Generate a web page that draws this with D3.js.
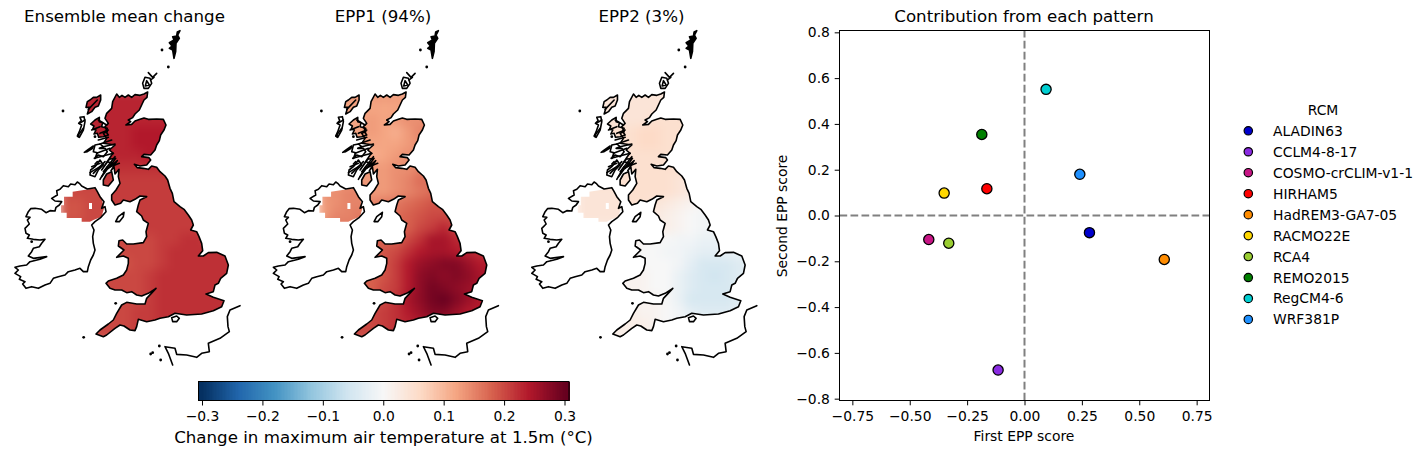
<!DOCTYPE html>
<html><head><meta charset="utf-8">
<style>html,body{margin:0;padding:0;background:#fff}svg{display:block}text{font-family:"DejaVu Sans",sans-serif;fill:#000}</style>
<script src="https://cdn.jsdelivr.net/npm/d3@7/dist/d3.min.js"></script>
</head><body><svg id="c" width="1427" height="454"></svg>
<script>
// ---------- scatter data ----------
const rcmNames=["ALADIN63","CCLM4-8-17","COSMO-crCLIM-v1-1","HIRHAM5","HadREM3-GA7-05","RACMO22E","RCA4","REMO2015","RegCM4-6","WRF381P"];
const rcmColors=["#0000cd","#8a2be2","#c71585","#ff0000","#ff8c00","#ffd700","#9acd32","#008000","#00ced1","#1e90ff"];
const firstScore=[0.283,-0.115,-0.417,-0.164,0.609,-0.350,-0.330,-0.186,0.094,0.241];
const secondScore=[-0.075,-0.675,-0.105,0.117,-0.192,0.098,-0.121,0.354,0.551,0.180];
const xTicks=[-0.75,-0.5,-0.25,0,0.25,0.5,0.75];
const yTicks=[-0.8,-0.6,-0.4,-0.2,0,0.2,0.4,0.6,0.8];
const cbTicks=[-0.3,-0.2,-0.1,0,0.1,0.2,0.3];
const panelTitles=["Ensemble mean change","EPP1 (94%)","EPP2 (3%)"];
const rdbu=["#053061","#2166ac","#4393c3","#92c5de","#d1e5f0","#f7f7f7","#fddbc7","#f4a582","#d6604d","#b2182b","#67001f"];
// ---------- field values (hundredths of a degree), coarse reading of each panel ----------
const gridCols=[198,234,270,306,342,378,414,450,486,522,558,594,630,666,702];
const gridRows=[228,264,300,336,372,408,444,480,516,552,588,624,660,696,732,768,804,840,876,912,948];
const meanField=[
[23,23,23,23,23,23,23,23,23,23,23,23,23,23,23],
[23,23,23,23,23,23,23,23,23,23,23,23,23,23,23],
[23,23,23,23,23,23,23,23,23,23,23,23,23,23,23],
[23,23,23,23,23,23,24,24,24,24,24,24,24,24,24],
[23,23,23,23,23,23,24,24,24,24,24,24,24,24,24],
[23,23,23,23,23,23,23,24,23,23,23,23,23,23,23],
[22,22,22,22,22,22,22,22,22,22,22,22,22,22,22],
[21,21,21,21,21,21,21,21,21,21,21,21,21,21,21],
[20,20,20,20,21,21,21,21,21,21,21,21,21,21,21],
[19,19,20,20,21,21,21,21,21,21,21,21,21,21,21],
[19,19,20,20,21,21,21,21,21,21,21,21,21,21,21],
[20,20,20,20,21,21,21,21,21,21,21,21,21,21,21],
[20,20,20,20,20,20,20,20,21,21,22,22,21,21,21],
[20,20,20,20,20,20,20,20,21,22,22,22,22,22,22],
[20,20,20,20,20,19,20,20,21,22,22,22,22,22,22],
[20,20,20,20,20,20,20,21,22,22,22,22,22,22,22],
[20,20,20,20,20,20,20,21,22,22,22,22,22,22,22],
[20,20,20,20,20,20,20,21,22,22,22,22,22,22,22],
[20,20,20,20,20,20,21,21,22,22,22,22,22,22,22],
[20,20,20,20,20,20,21,21,22,22,22,22,22,22,22],
[20,20,20,20,20,20,21,21,22,22,22,22,22,22,22]];
const epp1Field=[
[13,13,13,13,13,13,13,13,13,13,13,13,13,13,13],
[12,12,12,12,12,12,12,13,13,13,13,13,13,13,13],
[12,12,12,12,13,12,13,14,14,14,14,14,14,14,14],
[12,12,12,12,13,12,11,13,15,14,14,14,14,14,14],
[12,12,12,12,12,12,12,13,14,14,14,14,14,14,14],
[12,12,12,12,11,12,13,14,14,14,14,14,14,14,14],
[13,13,13,13,13,13,14,14,15,15,15,15,15,15,15],
[13,13,13,13,13,13,14,15,17,16,16,16,16,16,16],
[14,14,15,15,13,13,14,15,16,17,17,17,17,17,17],
[13,14,15,15,15,16,16,17,18,19,19,19,19,19,19],
[13,15,15,16,16,16,17,18,19,20,20,20,20,20,20],
[16,16,16,16,17,17,18,18,20,21,23,20,20,20,20],
[18,18,18,18,18,18,18,20,22,25,25,23,22,22,22],
[18,18,18,18,18,19,20,22,24,25,25,24,23,22,22],
[18,18,18,18,18,19,21,24,26,27,28,28,26,24,24],
[18,18,18,18,18,19,21,24,27,28,27,28,27,25,25],
[18,18,18,18,18,20,21,24,27,29,28,27,26,25,25],
[19,19,19,19,19,20,22,25,27,29,30,28,26,24,24],
[20,20,20,20,20,21,22,24,26,28,28,26,24,24,24],
[20,20,20,20,20,21,22,23,24,25,25,24,24,24,24],
[20,20,20,20,20,21,22,23,24,25,25,24,24,24,24]];
const epp2Field=[
[4,4,4,4,4,4,4,4,4,4,4,4,4,4,4],
[4,4,4,4,4,4,4,4,4,4,4,4,4,4,4],
[4,4,4,4,4,4,5,5,5,5,5,5,5,5,5],
[5,5,5,5,5,6,6,5,5,5,5,5,5,5,5],
[5,5,5,5,5,6,6,5,5,5,5,5,5,5,5],
[5,5,5,5,5,5,5,5,5,5,5,5,5,5,5],
[5,5,5,5,5,5,5,5,5,5,5,5,5,5,5],
[5,5,5,5,5,5,5,5,4,3,3,3,3,3,3],
[4,4,4,4,5,5,5,5,4,3,2,2,2,2,2],
[4,4,4,4,5,5,4,3,2,1,0,0,0,0,0],
[4,4,4,4,3,3,3,2,1,0,-1,-1,-1,-1,-1],
[3,3,3,3,3,3,3,2,1,0,-1,-1,-1,-1,-1],
[2,2,2,2,1,1,0,0,-1,-1,-2,-2,-2,-2,-2],
[1,1,1,1,1,0,0,-1,-1,-2,-3,-3,-2,-2,-2],
[1,1,1,1,1,0,0,0,-1,-3,-5,-5,-5,-4,-3],
[1,1,1,1,1,1,0,0,-2,-4,-5,-6,-5,-4,-3],
[1,1,1,1,1,1,0,0,-2,-4,-5,-5,-5,-4,-3],
[2,2,2,2,2,1,1,0,-2,-5,-5,-5,-5,-4,-3],
[2,2,2,2,2,1,1,0,-1,-3,-4,-4,-4,-3,-3],
[2,2,2,2,2,2,1,0,-1,-2,-2,-2,-2,-2,-2],
[2,2,2,2,2,2,1,0,-1,-2,-2,-2,-2,-2,-2]];
const fields=[meanField,epp1Field,epp2Field];
// ---------- coast outlines, in map units ----------
const britain=[[350,222],[358,232],[366,226],[375,232],[385,225],[395,232],[405,224],[420,226],[432,222],[443,216],[441,232],[432,240],[425,255],[418,270],[405,282],[398,293],[385,300],[392,305],[378,315],[395,313],[405,303],[420,298],[432,294],[445,298],[470,297],[490,298],[498,315],[492,330],[482,345],[478,362],[470,375],[465,390],[452,405],[432,403],[425,410],[447,413],[452,420],[440,435],[420,438],[403,433],[412,443],[430,445],[445,448],[455,438],[470,442],[480,455],[495,468],[503,480],[510,505],[517,520],[522,545],[540,560],[552,568],[565,585],[575,600],[580,615],[572,630],[590,635],[597,650],[605,670],[608,692],[595,708],[610,708],[625,698],[650,697],[675,708],[685,735],[680,760],[662,775],[655,790],[645,795],[640,815],[618,822],[640,832],[672,842],[665,860],[640,872],[605,882],[560,885],[525,880],[505,890],[480,895],[465,900],[440,905],[415,898],[410,920],[405,932],[390,930],[372,918],[360,915],[345,925],[320,945],[310,950],[288,942],[300,930],[325,912],[340,900],[350,880],[365,855],[380,847],[410,852],[435,852],[440,835],[468,805],[445,820],[425,828],[410,825],[395,815],[380,818],[365,810],[345,810],[330,805],[318,790],[325,783],[350,775],[370,765],[380,750],[385,730],[385,715],[370,708],[350,712],[372,690],[355,678],[357,662],[368,660],[380,672],[400,672],[430,668],[440,650],[438,635],[445,610],[430,600],[425,588],[410,575],[415,555],[420,540],[440,530],[420,528],[405,538],[390,545],[370,540],[362,550],[345,555],[335,540],[335,525],[348,510],[360,490],[355,470],[357,448],[345,462],[342,440],[333,452],[352,422],[325,445],[347,415],[328,418],[305,450],[335,405],[340,400],[328,390],[345,375],[310,370],[320,355],[310,340],[322,335],[315,320],[325,310],[315,295],[320,280],[335,265],[338,245]];
const northernIreland=[[192,530],[218,530],[218,515],[285,505],[305,535],[312,565],[305,590],[280,600],[270,605],[245,605],[245,594],[200,594],[200,578],[183,578],[183,556],[192,556]];
const niHole=[[267,549],[276,549],[276,567],[267,567]];
const maskedIslands=[
[[302,225],[290,232],[280,232],[270,240],[262,245],[258,262],[268,262],[262,282],[275,275],[285,262],[295,258],[302,240]],
[[335,455],[320,462],[310,480],[310,495],[325,498],[340,480]],
[[298,292],[285,300],[272,312],[282,318],[278,328],[288,330],[282,342],[292,340],[296,352],[310,350],[325,345],[318,335],[322,325],[305,320],[308,308],[298,305]]];
const otherIslands=[
[[252,290],[240,292],[244,302],[236,310],[245,315],[238,335],[232,348],[238,352],[250,330],[255,305]],
[[253,397],[265,388],[280,378],[278,385],[262,395]],
[[285,375],[300,372],[310,380],[298,385],[315,385],[322,395],[310,410],[295,405],[285,415],[292,398],[280,395]],
[[300,420],[285,440],[272,450],[270,465],[285,470],[295,450],[310,435]],
[[372,577],[355,590],[347,605],[358,605],[370,590]],
[[515,893],[530,888],[538,895],[530,905],[518,905]],
[[445,205],[432,205],[428,190],[435,172],[450,175],[455,190]],
[[440,182],[448,195],[436,198]]];
const sealochs=[
[[445,158],[458,172],[470,160]],[[452,180],[462,172]],
[[310,380],[345,372]],[[290,400],[330,385]],[[283,415],[340,400]],[[275,440],[300,430]],[[320,445],[358,430]],[[305,470],[335,430]],[[270,458],[300,440]],[[285,432],[292,425]],
[[295,360],[325,352]],[[300,372],[335,360]],[[322,425],[345,432]],[[280,460],[315,425]],[[300,478],[322,440]],[[310,455],[345,410]],[[295,300],[320,315]],[[275,330],[300,320]],[[300,340],[325,330]],[[238,310],[255,300]],[[235,345],[250,325]],[[265,268],[292,240]]];
const shetland=[[540,32],[532,36],[530,48],[518,50],[522,60],[508,68],[516,78],[508,85],[518,90],[522,115],[527,95],[528,70],[538,55],[533,45]];
const ireland=[[232,486],[225,494],[212,492],[205,500],[190,497],[180,508],[170,512],[172,525],[155,535],[165,543],[185,545],[178,555],[168,562],[165,573],[150,572],[138,578],[125,568],[105,565],[92,566],[85,575],[78,590],[90,592],[82,600],[88,612],[75,625],[78,640],[88,645],[82,655],[100,658],[120,660],[135,658],[125,670],[118,680],[100,685],[95,695],[85,708],[100,715],[140,710],[120,718],[90,725],[80,735],[60,738],[45,742],[55,750],[45,760],[62,770],[58,778],[75,785],[68,792],[78,805],[95,800],[115,805],[135,795],[150,790],[160,775],[175,770],[195,765],[205,755],[225,750],[240,745],[250,755],[262,755],[265,740],[272,720],[280,705],[285,690],[280,670],[278,650],[282,630],[275,615],[285,605],[303,592],[318,575],[315,560],[305,565],[312,545],[300,530],[292,515],[285,503],[262,507],[245,498],[238,490]];
const france=[[720,857],[690,870],[682,890],[684,920],[688,935],[660,955],[625,970],[628,995],[605,1000],[590,1012],[560,1005],[530,1003],[525,985],[495,980],[505,1000],[518,1035]];
const islets=[[189,273],[486,90],[505,141],[347,850],[95,665],[235,348],[251,952],[458,998],[482,1020],[478,978],[285,350],[452,1002]];

const svg=d3.select("#c");
const defs=svg.append("defs");
const flt=defs.append("filter").attr("id","soft").attr("x","-20%").attr("y","-20%").attr("width","140%").attr("height","140%")
  .attr("color-interpolation-filters","sRGB");
flt.append("feGaussianBlur").attr("stdDeviation",5);

const cStops=d3.range(11).map(i=>-0.3+0.06*i);
const color=d3.scaleLinear().domain(cStops).range(rdbu).clamp(true);
const mapOff=[0,258.4,516.8];

const closed=d3.line().curve(d3.curveLinearClosed);
fields.forEach((field,p)=>{
  const px=d3.scaleLinear().domain([0,780]).range([mapOff[p],mapOff[p]+260]);
  const py=d3.scaleLinear().domain([0,1050]).range([20,370]);
  const l=pts=>pts.map(d=>[px(d[0]),py(d[1])]);
  const clip=defs.append("clipPath").attr("id","land"+p);
  clip.append("path").attr("d",closed(l(britain)));
  clip.append("path").attr("d",closed(l(northernIreland)));
  maskedIslands.forEach(i=>clip.append("path").attr("d",closed(l(i))));
  const g=svg.append("g");
  const raster=g.append("g").attr("clip-path",`url(#land${p})`).append("g").attr("filter","url(#soft)");
  field.forEach((row,j)=>row.forEach((v,i)=>{
    raster.append("rect").attr("x",px(gridCols[i]-18)-0.3).attr("y",py(gridRows[j]-18)-0.3)
      .attr("width",px(36)-px(0)+0.6).attr("height",py(36)-py(0)+0.6).attr("fill",color(v/100));
  }));
  g.append("path").attr("d",closed(l(niHole))).attr("fill","#fff");
  const coast=g.append("g").attr("fill","none").attr("stroke","#000").attr("stroke-width",1.6).attr("stroke-linejoin","round").attr("stroke-linecap","round");
  [britain,ireland,...maskedIslands,...otherIslands].forEach(i=>coast.append("path").attr("d",closed(l(i))));
  sealochs.forEach(i=>coast.append("path").attr("d",d3.line()(l(i))));
  coast.append("path").attr("d",d3.line()(l(france)));
  coast.append("path").attr("d",closed(l(shetland))).attr("fill","#000");
  g.selectAll("circle.i").data(islets).join("circle").attr("cx",d=>px(d[0])).attr("cy",d=>py(d[1])).attr("r",1.4).attr("fill","#000");
  svg.append("text").attr("x",[124.5,383,641.5][p]).attr("y",22).attr("text-anchor","middle").attr("font-size",16.67).text(panelTitles[p]);
});

// ---------- colour bar ----------
const cb=d3.scaleLinear().domain([-0.3066,0.3066]).range([198.5,569]);
const cbG=svg.append("g");
d3.range(256).forEach(i=>{
  const v0=-0.3066+i/256*0.6132;
  cbG.append("rect").attr("x",cb(v0)).attr("y",382).attr("width",(569-198.5)/256+0.5).attr("height",18.6).attr("fill",color(v0+0.6132/512)).attr("shape-rendering","crispEdges");
});
cbG.append("rect").attr("x",198.5).attr("y",381.5).attr("width",370.5).attr("height",19).attr("fill","none").attr("stroke","#000").attr("stroke-width",1);
cbTicks.forEach(t=>{
  cbG.append("line").attr("x1",cb(t)).attr("x2",cb(t)).attr("y1",401).attr("y2",405.5).attr("stroke","#000");
  cbG.append("text").attr("x",cb(t)).attr("y",421).attr("text-anchor","middle").attr("font-size",13.89).text(d3.format(".1f")(t).replace("-","\u2212"));
});
svg.append("text").attr("x",383.5).attr("y",442.5).attr("text-anchor","middle").attr("font-size",16.67).text("Change in maximum air temperature at 1.5m (\u00b0C)");

// ---------- scatter ----------
const x=d3.scaleLinear().domain([-0.806,0.806]).range([839.5,1209.5]);
const y=d3.scaleLinear().domain([-0.808,0.808]).range([400.5,30.5]);
const sc=svg.append("g");
sc.append("line").attr("x1",x(0)).attr("x2",x(0)).attr("y1",y.range()[0]).attr("y2",y.range()[1]).attr("stroke","#808080").attr("stroke-width",2).attr("stroke-dasharray","7.7 3.3");
sc.append("line").attr("y1",y(0)).attr("y2",y(0)).attr("x1",x.range()[0]).attr("x2",x.range()[1]).attr("stroke","#808080").attr("stroke-width",2).attr("stroke-dasharray","7.7 3.3");
const fx=d3.axisBottom(x).tickValues(xTicks).tickSize(4.8).tickPadding(5.4).tickFormat(d=>d3.format(".2f")(d).replace("-","\u2212"));
const fy=d3.axisLeft(y).tickValues(yTicks).tickSize(4.8).tickPadding(4.8).tickFormat(d=>d3.format(".1f")(d).replace("-","\u2212"));
const ax=sc.append("g").attr("transform","translate(0,400.5)").call(fx);
const ay=sc.append("g").attr("transform","translate(839.5,0)").call(fy);
[ax,ay].forEach(a=>{a.select(".domain").remove();a.selectAll("text").attr("font-size",13.89).attr("font-family","DejaVu Sans").attr("fill","#000");});
sc.append("rect").attr("x",839.5).attr("y",30.5).attr("width",370).attr("height",370).attr("fill","none").attr("stroke","#000").attr("stroke-width",1);
sc.selectAll("circle").data(rcmNames).join("circle").attr("cx",(d,i)=>x(firstScore[i])).attr("cy",(d,i)=>y(secondScore[i])).attr("r",5.1)
  .attr("fill",(d,i)=>rcmColors[i]).attr("stroke","#000").attr("stroke-width",1.3);
svg.append("text").attr("x",1024).attr("y",22).attr("text-anchor","middle").attr("font-size",16.67).text("Contribution from each pattern");
svg.append("text").attr("x",1024).attr("y",441).attr("text-anchor","middle").attr("font-size",13.89).text("First EPP score");
svg.append("text").attr("transform","translate(787,216) rotate(-90)").attr("text-anchor","middle").attr("font-size",13.89).text("Second EPP score");

// ---------- legend ----------
const lg=svg.append("g");
lg.append("text").attr("x",1323).attr("y",115).attr("text-anchor","middle").attr("font-size",13.89).text("RCM");
rcmNames.forEach((n,i)=>{
  const yy=130.8+i*20.96;
  lg.append("circle").attr("cx",1248.3).attr("cy",yy).attr("r",4.2).attr("fill",rcmColors[i]).attr("stroke","#000").attr("stroke-width",1.2);
  lg.append("text").attr("x",1273).attr("y",yy+5).attr("font-size",13.89).text(n);
});
</script></body></html>
